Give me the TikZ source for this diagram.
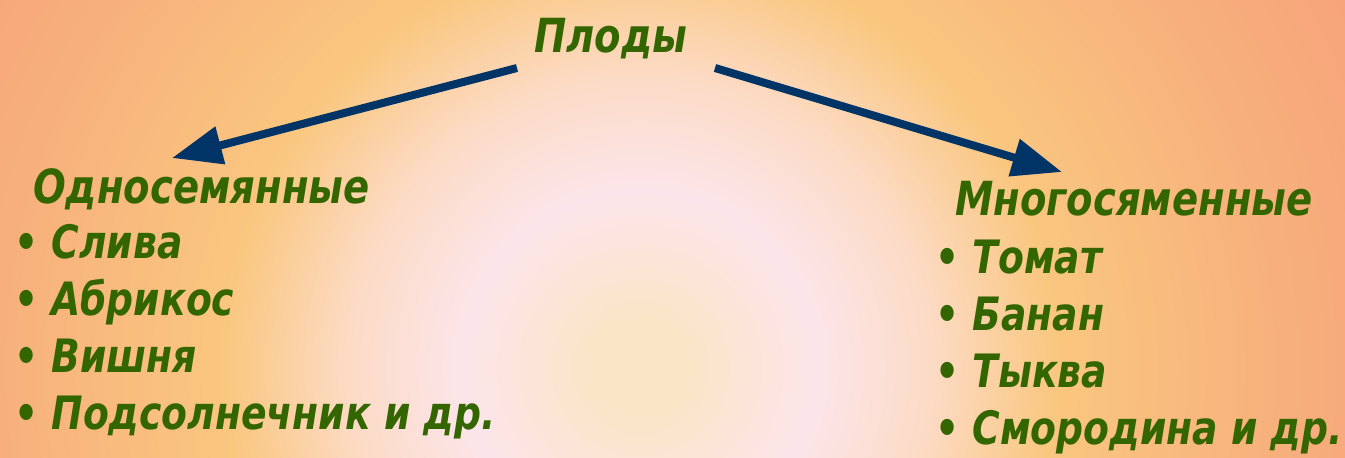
\documentclass[tikz,border=0pt]{standalone}
\usepackage{fontspec}
\setmainfont{DejaVu Sans}[FakeStretch=0.82]
\usepackage{tikz}
\definecolor{leafgreen}{rgb}{0.20, 0.40, 0.00}
\definecolor{inkblue}{rgb}{0.00, 0.20, 0.40}
\definecolor{glowcore}{rgb}{0.98, 0.90, 0.78}
\definecolor{glowpink}{rgb}{0.99, 0.90, 0.92}
\definecolor{glowpeach}{rgb}{0.99, 0.86, 0.78}
\definecolor{glowamber}{rgb}{0.98, 0.78, 0.50}
\definecolor{glowsalmon}{rgb}{0.97, 0.69, 0.49}
\definecolor{glowedge}{rgb}{0.97, 0.64, 0.48}
\usetikzlibrary{arrows.meta}
\pgfdeclareradialshading{glow}{\pgfpoint{0bp}{0bp}}{%
  color(0bp)=(glowcore); color(1.5bp)=(glowcore); color(5.5bp)=(glowpink);
  color(9bp)=(glowpeach); color(13bp)=(glowamber); color(20bp)=(glowsalmon);
  color(25bp)=(glowedge); color(50bp)=(glowedge)}
\tikzset{
  title/.style={inner sep=0pt, text=leafgreen, font=\fontsize{47}{50}\selectfont\bfseries\itshape},
  fruit/.style={title, anchor=base west},
  item/.style={fruit, font=\fontsize{46}{50}\selectfont\bfseries\itshape},
  link/.style={inkblue, line width=8pt, -{Triangle[length=50pt, width=37pt]}}
}

\begin{document}
\begin{tikzpicture}[x=1pt, y=-1pt]
  \useasboundingbox (0,0) rectangle (1345,458);
  % Background
  \begin{scope}
    \clip (0,0) rectangle (1345,458);
    \shade[shading=glow] (-160,-433) rectangle (1440,1167);
  \end{scope}

  % Coordinates
  \coordinate (A) at (517,68);
  \coordinate (B) at (172,158);
  \coordinate (C) at (715,68);
  \coordinate (D) at (1062,172);

  % Headings
  \node[fruit] (plody) at (534,52) {Плоды};
  \node[fruit] (odno) at (33,203) {Односемянные};
  \node[fruit] (mnogo) at (955,215) {Многосяменные};

  % Left list
  \node[item] (sliva) at (14,258) {• Слива};
  \node[item] (abrikos) at (14,315) {• Абрикос};
  \node[item] (vishnya) at (14,372) {• Вишня};
  \node[item] (podsoln) at (14,429) {• Подсолнечник и др.};

  % Right list
  \node[item] (tomat) at (935,273) {• Томат};
  \node[item] (banan) at (935,330) {• Банан};
  \node[item] (tykva) at (935,387) {• Тыква};
  \node[item] (smorod) at (935,444) {• Смородина и др.};

  % Drawing
  \draw[link] (A) -- (B);
  \draw[link] (C) -- (D);
\end{tikzpicture}
\end{document}
